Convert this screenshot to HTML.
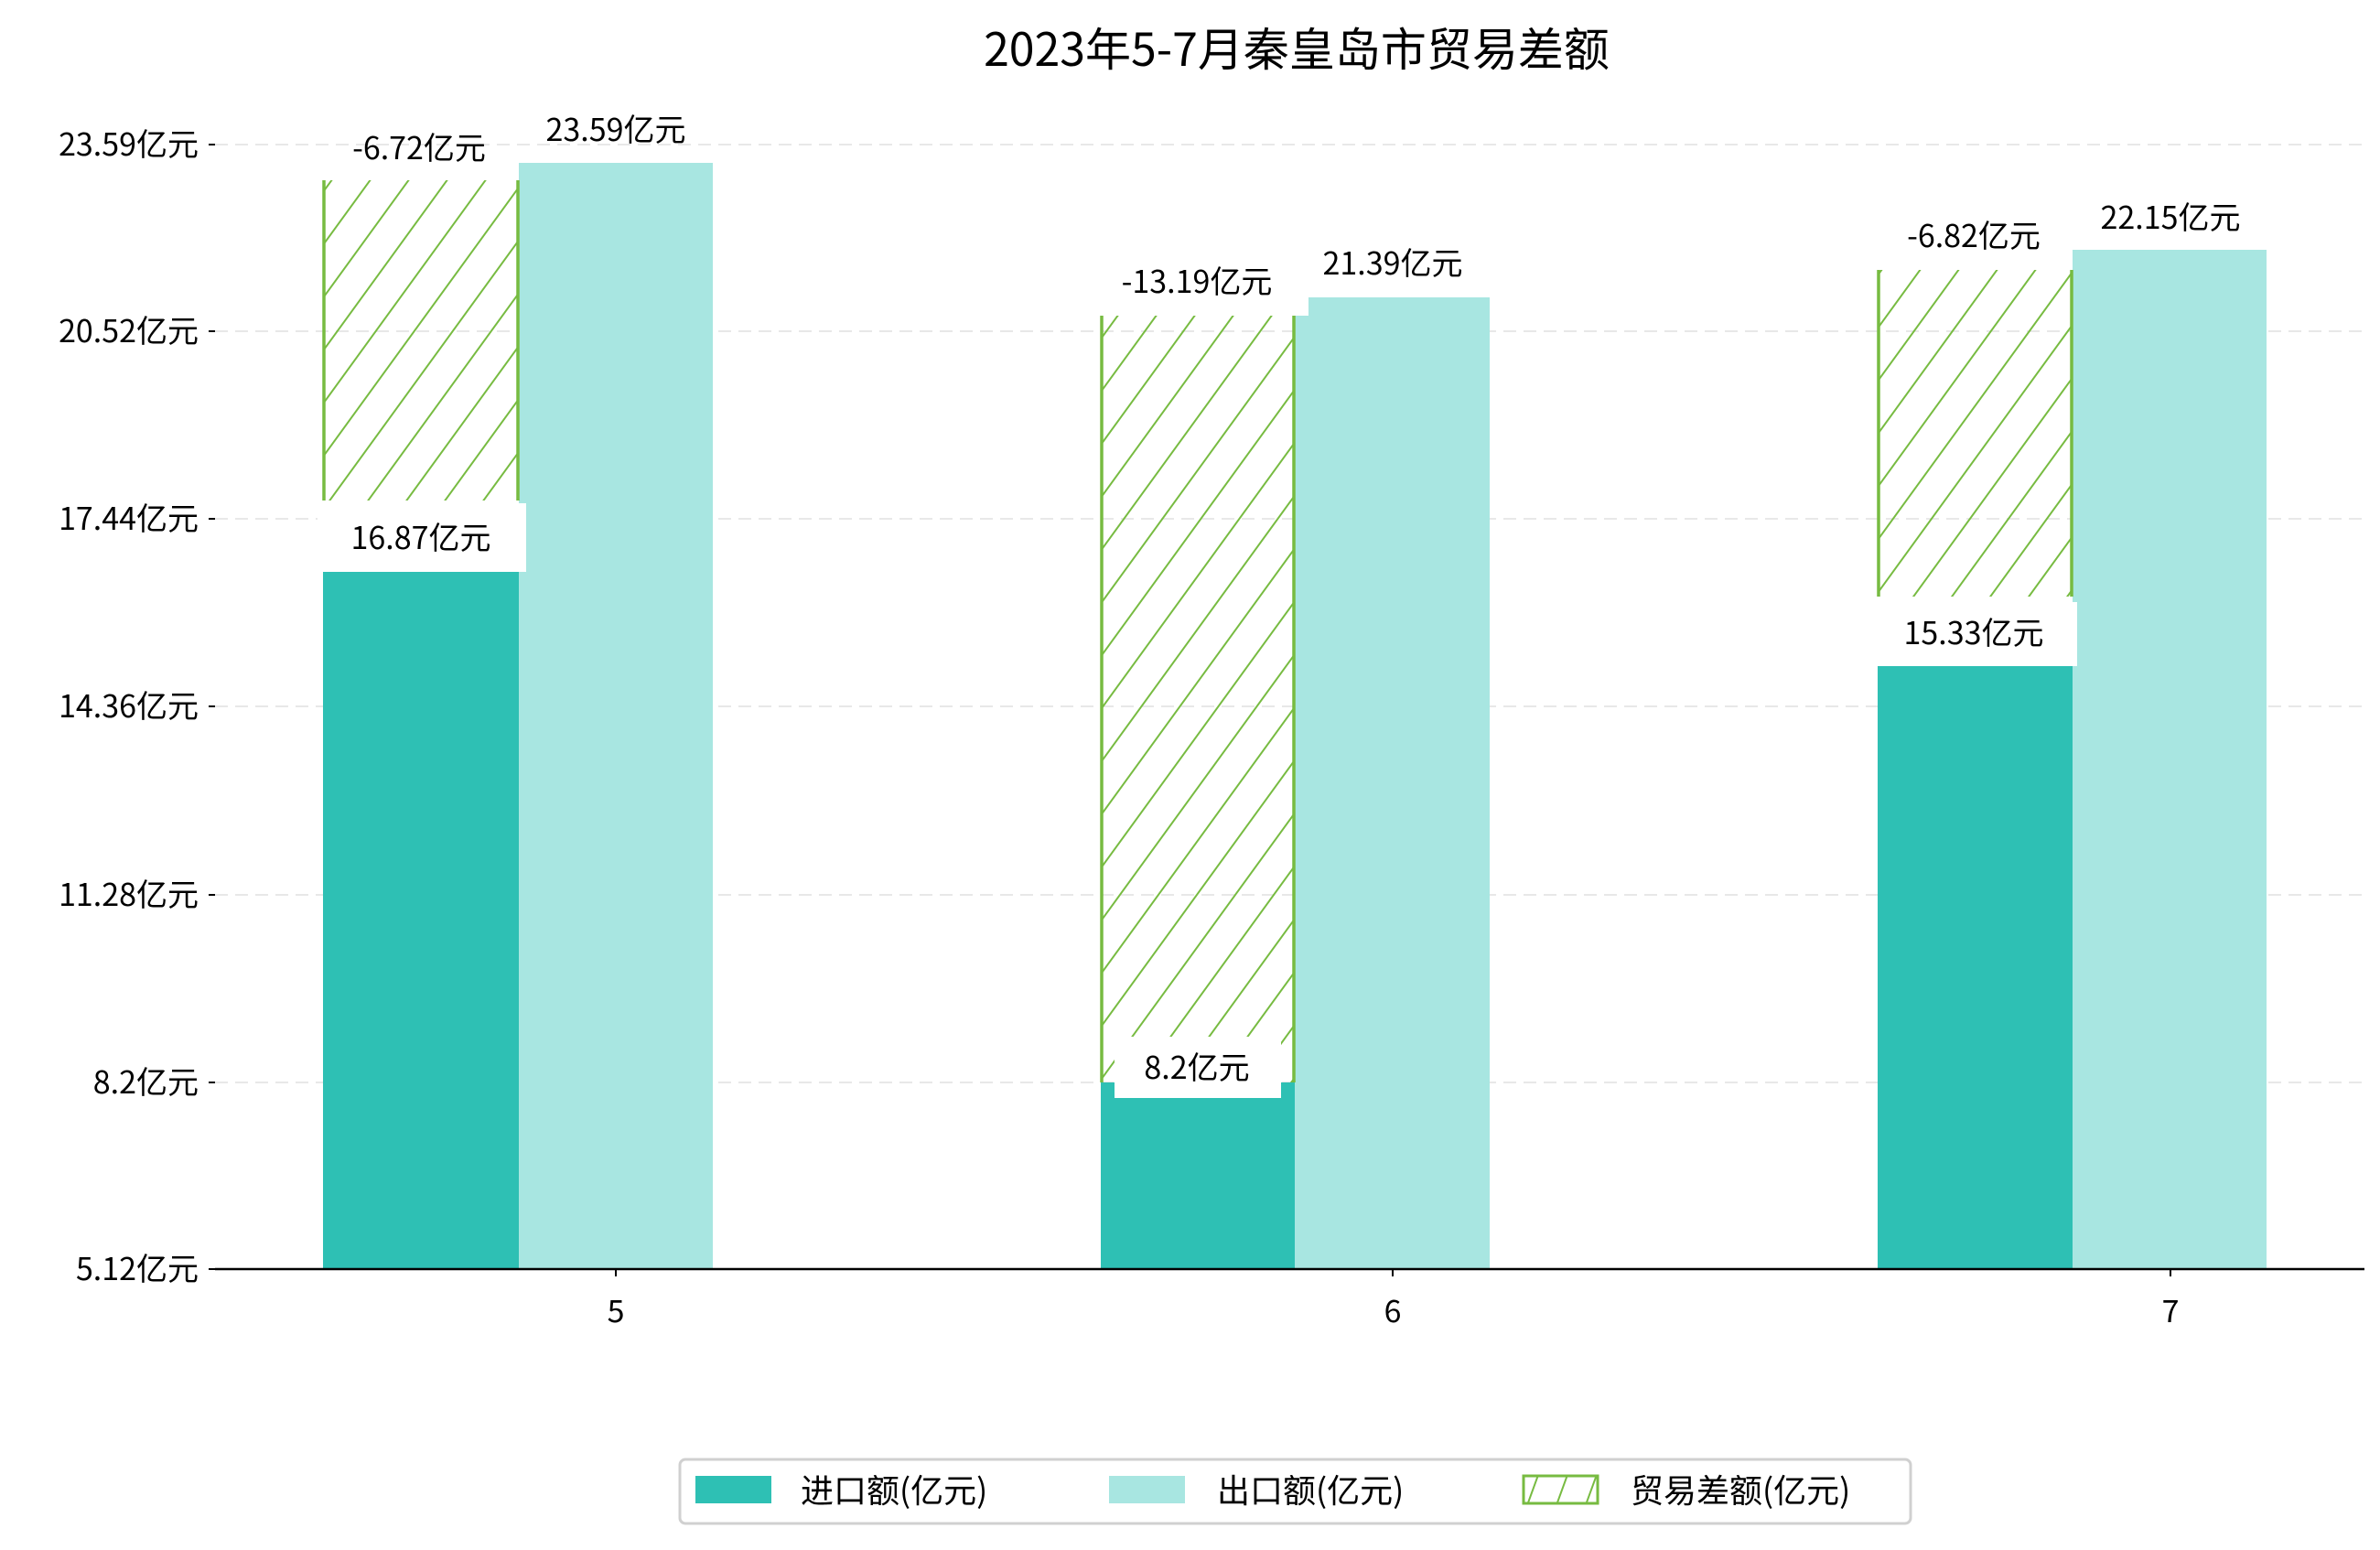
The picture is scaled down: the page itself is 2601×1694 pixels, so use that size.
<!DOCTYPE html>
<html><head><meta charset="utf-8"><style>
body{margin:0;background:#fff}
svg text{font-family:"WenQuanYi Zen Hei","Noto Sans CJK SC",sans-serif;fill:#000}
</style></head><body>
<svg width="2601" height="1689" viewBox="0 0 2601 1689" xmlns="http://www.w3.org/2000/svg">
<defs>
<pattern id="h" patternUnits="userSpaceOnUse" width="34" height="34" patternTransform="rotate(36)">
<line x1="0" y1="0" x2="0" y2="34" stroke="#77bb41" stroke-width="4"/>
</pattern>
<pattern id="hl" patternUnits="userSpaceOnUse" width="30" height="30" patternTransform="rotate(20)">
<line x1="0" y1="0" x2="0" y2="30" stroke="#77bb41" stroke-width="4"/>
</pattern>
</defs>
<text x="1417" y="72" font-size="50" text-anchor="middle">2023年5-7月秦皇岛市贸易差额</text>
<g stroke="#e8e8e8" stroke-width="2" stroke-dasharray="14,8">
<line x1="235" y1="158" x2="2584" y2="158"/>
<line x1="235" y1="362" x2="2584" y2="362"/>
<line x1="235" y1="567" x2="2584" y2="567"/>
<line x1="235" y1="772" x2="2584" y2="772"/>
<line x1="235" y1="978" x2="2584" y2="978"/>
<line x1="235" y1="1183" x2="2584" y2="1183"/>
</g>
<g font-size="34" text-anchor="end">
<text x="217" y="170">23.59亿元</text>
<text x="217" y="374">20.52亿元</text>
<text x="217" y="579">17.44亿元</text>
<text x="217" y="784">14.36亿元</text>
<text x="217" y="990">11.28亿元</text>
<text x="217" y="1195">8.2亿元</text>
<text x="217" y="1399">5.12亿元</text>
</g>
<g stroke="#000" stroke-width="2">
<line x1="228" y1="158" x2="235" y2="158"/><line x1="228" y1="362" x2="235" y2="362"/>
<line x1="228" y1="567" x2="235" y2="567"/><line x1="228" y1="772" x2="235" y2="772"/>
<line x1="228" y1="978" x2="235" y2="978"/><line x1="228" y1="1183" x2="235" y2="1183"/>
<line x1="228" y1="1387" x2="235" y2="1387"/>
</g>
<rect x="353" y="625" width="214" height="762" fill="#2ec0b4"/>
<rect x="567" y="178" width="212" height="1209" fill="#a8e6e1"/>
<rect x="1203" y="1183" width="212" height="204" fill="#2ec0b4"/>
<rect x="1415" y="325" width="213" height="1062" fill="#a8e6e1"/>
<rect x="2052" y="728" width="213" height="659" fill="#2ec0b4"/>
<rect x="2265" y="273" width="212" height="1114" fill="#a8e6e1"/>
<g stroke="#77bb41" stroke-width="3.5">
<rect x="353" y="197" width="214" height="350" fill="url(#h)" stroke="none"/>
<line x1="354" y1="197" x2="354" y2="547"/><line x1="566" y1="197" x2="566" y2="547"/>
<rect x="1203" y="345" width="212" height="838" fill="url(#h)" stroke="none"/>
<line x1="1204" y1="345" x2="1204" y2="1183"/><line x1="1414" y1="345" x2="1414" y2="1183"/>
<rect x="2052" y="295" width="213" height="357" fill="url(#h)" stroke="none"/>
<line x1="2053" y1="295" x2="2053" y2="652"/><line x1="2264" y1="295" x2="2264" y2="652"/>
</g>
<rect x="347" y="550" width="228" height="75" fill="#fff"/>
<rect x="1192" y="275" width="238" height="70" fill="#fff"/>
<rect x="1218" y="1133" width="182" height="67" fill="#fff"/>
<rect x="2050" y="658" width="220" height="70" fill="#fff"/>
<g font-size="34" text-anchor="middle">
<text x="458" y="174">-6.72亿元</text>
<text x="673" y="154">23.59亿元</text>
<text x="460" y="600">16.87亿元</text>
<text x="1308" y="320">-13.19亿元</text>
<text x="1522" y="300">21.39亿元</text>
<text x="1308" y="1179">8.2亿元</text>
<text x="2157" y="270">-6.82亿元</text>
<text x="2372" y="250">22.15亿元</text>
<text x="2157" y="704">15.33亿元</text>
</g>
<line x1="235" y1="1387" x2="2584" y2="1387" stroke="#000" stroke-width="2.5"/>
<g stroke="#000" stroke-width="2"><line x1="673" y1="1387" x2="673" y2="1395"/><line x1="1522" y1="1387" x2="1522" y2="1395"/><line x1="2372" y1="1387" x2="2372" y2="1395"/></g>
<g font-size="34" text-anchor="middle">
<text x="673" y="1445">5</text><text x="1522" y="1445">6</text><text x="2372" y="1445">7</text>
</g>
<rect x="743" y="1595" width="1345" height="70" rx="6" fill="#fff" stroke="#d0d0d0" stroke-width="3"/>
<rect x="760" y="1613" width="83" height="30" fill="#2ec0b4"/>
<rect x="1212" y="1613" width="83" height="30" fill="#a8e6e1"/>
<rect x="1665" y="1613" width="81" height="30" fill="url(#hl)" stroke="#77bb41" stroke-width="3"/>
<g font-size="36">
<text x="875" y="1642">进口额(亿元)</text>
<text x="1330" y="1642">出口额(亿元)</text>
<text x="1782" y="1642">贸易差额(亿元)</text>
</g>
</svg>
</body></html>
